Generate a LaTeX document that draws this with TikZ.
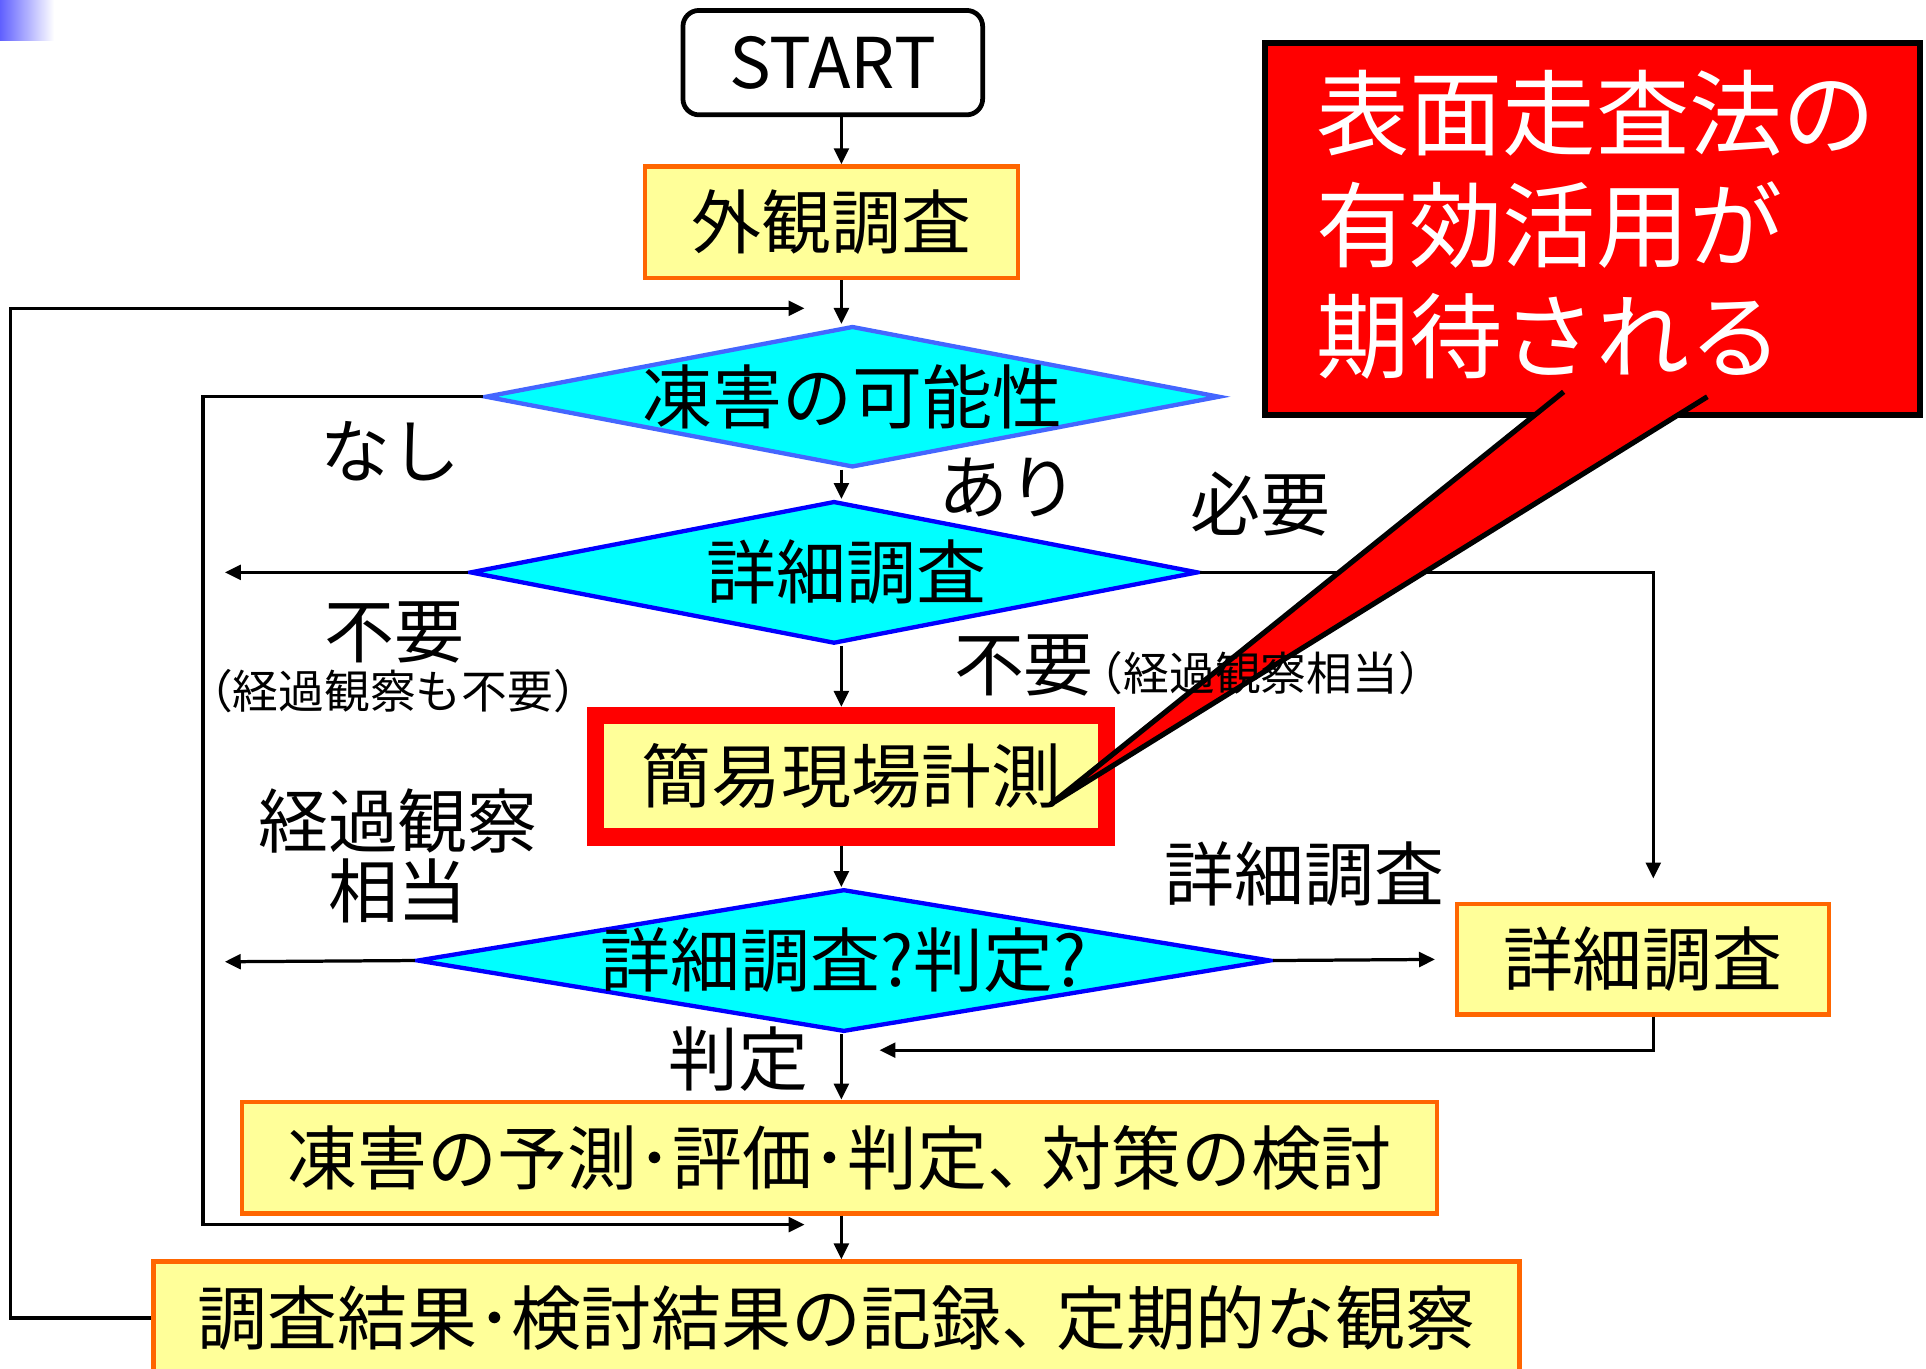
\documentclass[tikz,border=0pt]{standalone}
\usepackage{fontspec}
\setmainfont{Noto Sans CJK JP}
\usepackage{tikz}
\usetikzlibrary{shapes}
\usetikzlibrary{arrows.meta}
\usetikzlibrary{positioning}
\usetikzlibrary{calc}
\definecolor{boxyellow}{HTML}{FFFF99}
\definecolor{boxorange}{HTML}{FF6600}
\definecolor{diacyan}{HTML}{00FFFF}
\definecolor{diablue}{HTML}{0000FF}
\definecolor{dialight}{HTML}{4466FF}
\definecolor{cornerblue}{HTML}{6060FF}
\newcommand*{\bigtxt}{\fontsize{16.2pt}{16.2pt}\selectfont}
\newcommand*{\smalltxt}{\fontsize{10.6pt}{12pt}\selectfont}
\newcommand*{\calltxt}{\fontsize{21.6pt}{25.9pt}\selectfont}
\tikzstyle{pbox}=[rectangle,draw=boxorange,fill=boxyellow,line width=1pt,inner sep=0pt,font=\bigtxt]
\tikzstyle{dia}=[diamond,draw=diablue,fill=diacyan,line width=1pt,inner sep=0pt,aspect=4,font=\bigtxt]
\tikzstyle{arr}=[-{Triangle[length=1.3mm,width=1.2mm]},line width=0.75pt]
\tikzstyle{lbl}=[inner sep=0pt,font=\bigtxt]
\begin{document}
\begin{tikzpicture}[x=0.1mm,y=-0.1mm]
\useasboundingbox (0,0) rectangle (1568,1114);
\fill[white] (0,0) rectangle (1568,1114);
%corner
\shade[left color=cornerblue,right color=white] (0,0) rectangle (44,33);

%start and boxes
\node[draw,rounded corners=1.3mm,line width=1.1pt,minimum width=24.4mm,minimum height=8.5mm,inner sep=0pt,font=\bigtxt] (start) at (678,51) {START};
\node[pbox,minimum width=30.4mm,minimum height=9.1mm] (gaikan) at (677,181) {外観調査};
\node[dia,draw=dialight,minimum width=59.8mm,minimum height=11.5mm] (kanou) at (694,323) {\makebox[0pt]{凍害の可能性}};
\node[dia,minimum width=59.3mm,minimum height=11.6mm] (shousai) at (679,466) {\makebox[0pt]{\hspace{2mm}詳細調査}};
\node[pbox,draw=red,line width=1.4mm,minimum width=41.6mm,minimum height=9.9mm] (kani) at (693,632) {簡易現場計測};
\node[dia,minimum width=69.5mm,minimum height=11.6mm] (hantei) at (687,782) {\makebox[0pt]{詳細調査?判定?}};
\node[pbox,minimum width=30.3mm,minimum height=9mm] (shousai2) at (1337.5,781) {詳細調査};
\node[pbox,minimum width=97.3mm,minimum height=9.1mm] (yosoku) at (683.5,942.5) {凍害の予測･評価･判定、\kern-0.22em対策の検討};
\node[pbox,minimum width=111.2mm,minimum height=9.2mm] (kiroku) at (681,1073) {調査結果･検討結果の記録、\kern-0.22em定期的な観察};

%arrow ends
\coordinate (spine) at (685,0);
\coordinate (backtop) at (655,251);
\coordinate (nashiend) at (655,997);
\coordinate (fuyoend) at (183,466);
\coordinate (keikaend) at (183,783);
\coordinate (modori) at (716,855);

%main line
\foreach \from/\to in {start/gaikan,gaikan/kanou,kanou/shousai,shousai/kani,kani/hantei,hantei/yosoku,yosoku/kiroku} {
  \draw[arr] (spine |- \from.south) -- (spine |- \to.north);
}

%side lines
\draw[arr] (kiroku.west) -- ++(-115,0) |- (backtop);
\draw[arr] (kanou.west) -- ++(-228,0) |- (nashiend);
\draw[arr] (shousai.west) -- (fuyoend);
\draw[arr] (hantei.west) -- (keikaend);
\draw[arr,shorten >=1.9mm] (shousai.east) -| ([xshift=0.85mm]shousai2.north);
\draw[arr,shorten >=1.6mm] (hantei.east) -- (shousai2.west);
\draw[arr] ([xshift=0.85mm]shousai2.south) |- (modori);

%callout
\draw[fill=red,line width=1.4pt] (1030,35) rectangle (1563,338);
\coordinate (tailA) at (1273,319);
\coordinate (tailB) at (1390,323);
\coordinate (tip) at (855,655);
\fill[red] (tailA) -- (tip) -- (tailB) -- cycle;
\draw[line width=1.2pt] (tailA) -- (tip) -- (tailB);
\node[lbl,font=\calltxt,text=white,align=left,anchor=west] (callout) at (1071,183) {表面走査法の\\有効活用が\\期待される};

%labels
\node[lbl] (nashi) at (318,367) {なし};
\node[lbl] (ari) at (821,397) {あり};
\node[lbl] (hitsuyo) at (1026,410) {必要};
\node[lbl] (fuyo) at (321,515) {不要};
\node[lbl,font=\smalltxt] (fuyo2) at (320,563) {（経過観察も不要）};
\node[lbl,anchor=base west] (soutou) at (776,562) {不要{\smalltxt\kern-0.35em（経過観察相当）}};
\node[lbl,align=center] (keika) at (324,697) {経過観察\\相当};
\node[lbl] (shousai3) at (1062,712) {詳細調査};
\node[lbl] (hantei2) at (601,862) {判定};
\end{tikzpicture}
\end{document}
